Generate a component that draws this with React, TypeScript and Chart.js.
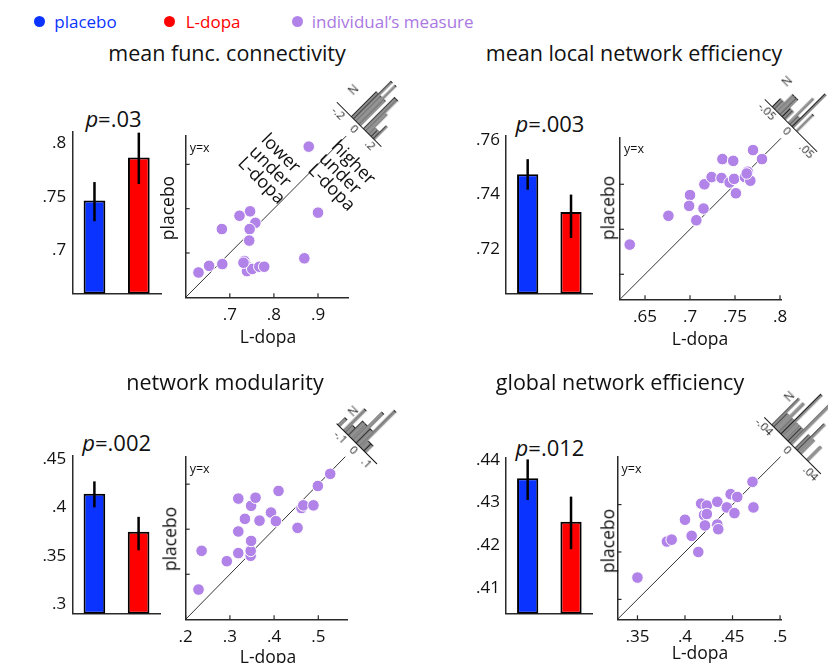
import React, { useEffect, useRef } from "react";
import { Chart, registerables } from "chart.js";

Chart.register(...registerables);

const FONT = "'Open Sans', 'Noto Sans', sans-serif";
Chart.defaults.font.family = FONT;

const BLUE = "#0b33ff";
const RED = "#ff0000";
const PURPLE = "rgb(177, 131, 232)";
const AXIS = "#2a2a2a";
const HIST_GRAY = "#8a8a8a";

// ---------------- data ----------------
const conditions = ["placebo", "L-dopa"];

// mean func. connectivity
const fcMean = [0.7464, 0.7864];
const fcLow = [0.7273, 0.7618];
const fcHigh = [0.7636, 0.8094];
const fcBarTicks = [0.7, 0.75, 0.8];
const fcLdopa = [0.879, 0.9, 0.869, 0.746, 0.722, 0.758, 0.745, 0.682, 0.744, 0.629, 0.653, 0.683, 0.733, 0.736, 0.739, 0.751, 0.767, 0.778, 0.731];
const fcPlacebo = [0.94, 0.791, 0.688, 0.794, 0.784, 0.768, 0.754, 0.754, 0.728, 0.656, 0.671, 0.675, 0.682, 0.674, 0.659, 0.664, 0.669, 0.669, 0.678];
const fcXTicks = [0.7, 0.8, 0.9];
const fcYTicks = [0.7, 0.8, 0.9];
const fcHistBins = [-0.0875, -0.0625, -0.0375, -0.0125, 0.0125, 0.0375, 0.0625, 0.0875, 0.1125, 0.1375, 0.1625, 0.1875];
const fcHistCounts = [2, 3, 2, 3, 2, 0, 2.5, 2.5, 1.5, 0.5, 0.5, 1];
const fcHistTicks = [-0.2, 0, 0.2];

// mean local network efficiency
const leMean = [0.7474, 0.7335];
const leLow = [0.7417, 0.724];
const leHigh = [0.7529, 0.7399];
const leBarTicks = [0.72, 0.74, 0.76];
const leLdopa = [0.633, 0.676, 0.7, 0.699, 0.715, 0.707, 0.716, 0.724, 0.736, 0.748, 0.735, 0.744, 0.749, 0.751, 0.761, 0.764, 0.767, 0.77, 0.78, 0.763];
const lePlacebo = [0.683, 0.715, 0.738, 0.726, 0.723, 0.71, 0.75, 0.758, 0.778, 0.776, 0.757, 0.752, 0.756, 0.74, 0.758, 0.764, 0.754, 0.788, 0.778, 0.762];
const leXTicks = [0.65, 0.7, 0.75, 0.8];
const leYTicks = [0.65, 0.7, 0.75];
const leHistBins = [-0.0475, -0.0425, -0.0375, -0.0325, -0.0275, -0.0225, -0.0175, -0.0125, -0.0075, -0.0025, 0.0025, 0.0075, 0.0125];
const leHistCounts = [1, 1, 2, 2, 2, 1, 1, 0, 3, 1, 4, 0, 2];
const leHistTicks = [-0.05, 0, 0.05];

// network modularity
const nmMean = [0.4141, 0.375];
const nmLow = [0.4001, 0.3557];
const nmHigh = [0.427, 0.3903];
const nmBarTicks = [0.3, 0.35, 0.4, 0.45];
const nmLdopa = [0.229, 0.236, 0.293, 0.319, 0.347, 0.347, 0.348, 0.319, 0.334, 0.367, 0.319, 0.348, 0.358, 0.393, 0.404, 0.41, 0.453, 0.462, 0.466, 0.489, 0.499, 0.527];
const nmPlacebo = [0.266, 0.352, 0.329, 0.347, 0.341, 0.352, 0.374, 0.395, 0.423, 0.419, 0.468, 0.452, 0.47, 0.437, 0.418, 0.485, 0.403, 0.447, 0.453, 0.453, 0.496, 0.523];
const nmXTicks = [0.2, 0.3, 0.4, 0.5];
const nmYTicks = [0.3, 0.4, 0.5];
const nmHistBins = [-0.15, -0.13, -0.11, -0.09, -0.07, -0.05, -0.03, -0.01, 0.01, 0.03, 0.05];
const nmHistCounts = [1, 0, 3, 1, 2, 2, 4, 2, 5, 1, 1];
const nmHistTicks = [-0.1, 0, 0.1];

// global network efficiency
const geMean = [0.4357, 0.4255];
const geLow = [0.4306, 0.4191];
const geHigh = [0.4401, 0.4314];
const geBarTicks = [0.41, 0.42, 0.43, 0.44];
const geLdopa = [0.35, 0.381, 0.386, 0.4, 0.407, 0.414, 0.417, 0.423, 0.42, 0.423, 0.421, 0.434, 0.435, 0.434, 0.444, 0.448, 0.455, 0.452, 0.471, 0.472];
const gePlacebo = [0.373, 0.411, 0.413, 0.434, 0.417, 0.4, 0.451, 0.449, 0.439, 0.44, 0.428, 0.429, 0.424, 0.453, 0.447, 0.461, 0.458, 0.441, 0.474, 0.447];
const geXTicks = [0.35, 0.4, 0.45, 0.5];
const geYTicks = [0.35, 0.4, 0.45];
const geHistBins = [-0.034, -0.03, -0.026, -0.022, -0.018, -0.014, -0.01, -0.006, -0.002, 0.002, 0.006, 0.01, 0.014, 0.018, 0.022, 0.026];
const geHistCounts = [2, 1, 2, 1, 3, 1, 1, 1, 3, 0, 1, 2, 1, 0, 0, 1];
const geHistTicks = [-0.04, 0, 0.04];

// ---------------- helpers ----------------
type Box = { x: number; y: number; w: number; h: number };
type Plot = { l: number; t: number; r: number; b: number };

function pad(box: Box, plot: Plot, yw: number, xh: number) {
  return {
    left: plot.l - box.x - yw,
    top: plot.t - box.y,
    right: box.x + box.w - plot.r,
    bottom: box.y + box.h - plot.b - xh,
  };
}

const fmt = (v: number) => {
  if (Math.abs(v) < 1e-9) return "0";
  const s = String(Math.round(v * 1000) / 1000);
  return s.replace(/^(-?)0\./, "$1.");
};

const setTicks = (vals: number[]) => (axis: any) => {
  axis.ticks = vals.map((v) => ({ value: v }));
};

function errorBarPlugin(low: number[], high: number[]) {
  return {
    id: "errbars",
    afterDatasetsDraw(chart: any) {
      const ctx = chart.ctx;
      const meta = chart.getDatasetMeta(0);
      const y = chart.scales.y;
      ctx.save();
      ctx.strokeStyle = "#000";
      ctx.lineWidth = 2.5;
      meta.data.forEach((el: any, i: number) => {
        ctx.beginPath();
        ctx.moveTo(el.x, y.getPixelForValue(low[i]));
        ctx.lineTo(el.x, y.getPixelForValue(high[i]));
        ctx.stroke();
      });
      ctx.restore();
    },
  };
}

function scatterDecor(xTicks: number[], yTicks: number[], lo: number, hi: number) {
  return {
    id: "decor",
    beforeDatasetsDraw(chart: any) {
      const { ctx, chartArea } = chart;
      const x = chart.scales.x;
      const y = chart.scales.y;
      ctx.save();
      ctx.strokeStyle = "#333";
      ctx.lineWidth = 1;
      ctx.beginPath();
      ctx.moveTo(x.getPixelForValue(lo), y.getPixelForValue(lo));
      ctx.lineTo(x.getPixelForValue(hi), y.getPixelForValue(hi));
      ctx.stroke();
      ctx.strokeStyle = AXIS;
      ctx.lineWidth = 1.2;
      xTicks.forEach((v) => {
        const px = x.getPixelForValue(v);
        ctx.beginPath();
        ctx.moveTo(px, chartArea.bottom);
        ctx.lineTo(px, chartArea.bottom - 4);
        ctx.stroke();
      });
      yTicks.forEach((v) => {
        const py = y.getPixelForValue(v);
        ctx.beginPath();
        ctx.moveTo(chartArea.left, py);
        ctx.lineTo(chartArea.left + 4, py);
        ctx.stroke();
      });
      ctx.fillStyle = "#111";
      ctx.font = `12.5px ${FONT}`;
      ctx.textBaseline = "middle";
      ctx.fillText("y=x", chartArea.left + 4, chartArea.top + 12.5);
      ctx.restore();
    },
  };
}

function nLabelPlugin(up: number) {
  return {
    id: "nlabel",
    afterDraw(chart: any) {
      const { ctx, chartArea } = chart;
      ctx.save();
      ctx.translate(chartArea.left + 4, chartArea.bottom - up);
      ctx.rotate(-Math.PI / 2);
      ctx.font = `12px ${FONT}`;
      ctx.fillStyle = "#222";
      ctx.textAlign = "center";
      ctx.textBaseline = "middle";
      ctx.fillText("N", 0, 0);
      ctx.restore();
    },
  };
}

// ---------------- panels ----------------
interface PanelDef {
  key: string;
  title: string;
  titlePos: [number, number];
  pText: string;
  pPos: [number, number];
  mean: number[];
  low: number[];
  high: number[];
  barRange: [number, number];
  barTicks: number[];
  barBox: Box;
  barPlot: Plot;
  ldopa: number[];
  placebo: number[];
  xRange: [number, number];
  yRange: [number, number];
  xTicks: number[];
  yTicks: number[];
  scBox: Box;
  scPlot: Plot;
  xTitlePos: [number, number];
  yTitlePos: [number, number];
  histBins: number[];
  histCounts: number[];
  histTicks: number[];
  histRange: [number, number];
  histPPU: number;
  histYMax: number;
  histAnchor: [number, number];
  nUp: number;
}

const D = 16 * 0.7071;

const panels: PanelDef[] = [
  {
    key: "fc",
    title: "mean func. connectivity",
    titlePos: [227, 53],
    pText: ".03",
    pPos: [113.5, 118],
    mean: fcMean,
    low: fcLow,
    high: fcHigh,
    barRange: [0.66, 0.81],
    barTicks: fcBarTicks,
    barBox: { x: 0, y: 110, w: 175, h: 200 },
    barPlot: { l: 72.3, t: 132, r: 161, b: 297 },
    ldopa: fcLdopa,
    placebo: fcPlacebo,
    xRange: [0.6, 0.968],
    yRange: [0.6, 0.964],
    xTicks: fcXTicks,
    yTicks: fcYTicks,
    scBox: { x: 150, y: 120, w: 215, h: 212 },
    scPlot: { l: 185.7, t: 136, r: 348, b: 297.3 },
    xTitlePos: [268, 336.5],
    yTitlePos: [168.3, 207.5],
    histBins: fcHistBins,
    histCounts: fcHistCounts,
    histTicks: fcHistTicks,
    histRange: [-0.28, 0.28],
    histPPU: 112,
    histYMax: 3.4,
    histAnchor: [348 + D, 135.3 - D],
    nUp: 20,
  },
  {
    key: "le",
    title: "mean local network efficiency",
    titlePos: [634, 53],
    pText: ".003",
    pPos: [550, 122.5],
    mean: leMean,
    low: leLow,
    high: leHigh,
    barRange: [0.7035, 0.7614],
    barTicks: leBarTicks,
    barBox: { x: 440, y: 110, w: 170, h: 200 },
    barPlot: { l: 506, t: 136, r: 592.7, b: 300 },
    ldopa: leLdopa,
    placebo: lePlacebo,
    xRange: [0.6222, 0.8011],
    yRange: [0.6222, 0.8022],
    xTicks: leXTicks,
    yTicks: leYTicks,
    scBox: { x: 600, y: 120, w: 200, h: 215 },
    scPlot: { l: 620, t: 137.3, r: 781, b: 299.3 },
    xTitlePos: [700, 339],
    yTitlePos: [608.3, 208.3],
    histBins: leHistBins,
    histCounts: leHistCounts,
    histTicks: leHistTicks,
    histRange: [-0.068, 0.064],
    histPPU: 560,
    histYMax: 5.2,
    histAnchor: [781 + D, 137.3 - D],
    nUp: 28,
  },
  {
    key: "nm",
    title: "network modularity",
    titlePos: [225, 382],
    pText: ".002",
    pPos: [116.7, 441.5],
    mean: nmMean,
    low: nmLow,
    high: nmHigh,
    barRange: [0.2901, 0.453],
    barTicks: nmBarTicks,
    barBox: { x: 0, y: 440, w: 175, h: 190 },
    barPlot: { l: 72.3, t: 455, r: 160.7, b: 620 },
    ldopa: nmLdopa,
    placebo: nmPlacebo,
    xRange: [0.2, 0.5656],
    yRange: [0.2, 0.561],
    xTicks: nmXTicks,
    yTicks: nmYTicks,
    scBox: { x: 150, y: 440, w: 215, h: 215 },
    scPlot: { l: 185.7, t: 456.7, r: 347.3, b: 619.3 },
    xTitlePos: [268, 656.5],
    yTitlePos: [170, 539],
    histBins: nmHistBins,
    histCounts: nmHistCounts,
    histTicks: nmHistTicks,
    histRange: [-0.167, 0.14],
    histPPU: 184,
    histYMax: 6,
    histAnchor: [347.3 + D, 456.7 - D],
    nUp: 20,
  },
  {
    key: "ge",
    title: "global network efficiency",
    titlePos: [620, 382],
    pText: ".012",
    pPos: [550, 447],
    mean: geMean,
    low: geLow,
    high: geHigh,
    barRange: [0.404, 0.4405],
    barTicks: geBarTicks,
    barBox: { x: 440, y: 440, w: 170, h: 190 },
    barPlot: { l: 506, t: 457.7, r: 592.7, b: 620 },
    ldopa: geLdopa,
    placebo: gePlacebo,
    xRange: [0.329, 0.501],
    yRange: [0.329, 0.5005],
    xTicks: geXTicks,
    yTicks: geYTicks,
    scBox: { x: 600, y: 440, w: 200, h: 215 },
    scPlot: { l: 617.5, t: 456.7, r: 781, b: 619.3 },
    xTitlePos: [700, 653],
    yTitlePos: [608.3, 540.5],
    histBins: geHistBins,
    histCounts: geHistCounts,
    histTicks: geHistTicks,
    histRange: [-0.048, 0.048],
    histPPU: 825,
    histYMax: 3.2,
    histAnchor: [781 + D, 456.7 - D],
    nUp: 32,
  },
];

// ---------------- chart configs ----------------
function barConfig(p: PanelDef): any {
  return {
    type: "bar",
    data: {
      labels: conditions,
      datasets: [
        {
          data: p.mean,
          backgroundColor: [BLUE, RED],
          borderColor: "#000",
          borderWidth: 2,
          borderSkipped: false,
          base: p.barRange[0],
          barPercentage: 0.49,
          categoryPercentage: 1,
        },
      ],
    },
    options: {
      responsive: false,
      animation: false,
      events: [],
      layout: { padding: pad(p.barBox, p.barPlot, 40, 0), autoPadding: false },
      plugins: { legend: { display: false }, tooltip: { enabled: false } },
      scales: {
        x: {
          grid: { display: false, drawTicks: false },
          ticks: { display: false },
          border: { color: AXIS, width: 1.5 },
          afterFit: (s: any) => {
            s.height = 0;
          },
        },
        y: {
          min: p.barRange[0],
          max: p.barRange[1],
          afterBuildTicks: setTicks(p.barTicks),
          ticks: { callback: (v: any) => fmt(Number(v)), font: { size: 17, family: FONT }, color: "#111", padding: 6 },
          grid: { display: false, drawTicks: false },
          border: { color: AXIS, width: 1.5 },
          afterFit: (s: any) => {
            s.width = 40;
          },
        },
      },
    },
    plugins: [errorBarPlugin(p.low, p.high)],
  };
}

function scatterConfig(p: PanelDef): any {
  const hi = Math.min(p.xRange[1], p.yRange[1]);
  return {
    type: "scatter",
    data: {
      datasets: [
        {
          data: p.ldopa.map((x, i) => ({ x, y: p.placebo[i] })),
          pointRadius: 5.8,
          backgroundColor: PURPLE,
          borderColor: "#ffffff",
          borderWidth: 1,
        },
      ],
    },
    options: {
      responsive: false,
      animation: false,
      events: [],
      layout: { padding: pad(p.scBox, p.scPlot, 0, 30), autoPadding: false },
      plugins: { legend: { display: false }, tooltip: { enabled: false } },
      scales: {
        x: {
          type: "linear",
          min: p.xRange[0],
          max: p.xRange[1],
          afterBuildTicks: setTicks(p.xTicks),
          ticks: { callback: (v: any) => fmt(Number(v)), font: { size: 17, family: FONT }, color: "#111", padding: 8, maxRotation: 0 },
          grid: { display: false, drawTicks: false },
          border: { color: AXIS, width: 1.5 },
          afterFit: (s: any) => {
            s.height = 30;
          },
        },
        y: {
          type: "linear",
          min: p.yRange[0],
          max: p.yRange[1],
          afterBuildTicks: setTicks(p.yTicks),
          ticks: { display: false },
          grid: { display: false, drawTicks: false },
          border: { color: AXIS, width: 1.5 },
          afterFit: (s: any) => {
            s.width = 0;
          },
        },
      },
    },
    plugins: [scatterDecor(p.xTicks, p.yTicks, p.xRange[0], hi)],
  };
}

function histBox(p: PanelDef): Box {
  const w = (p.histRange[1] - p.histRange[0]) * p.histPPU;
  return { x: 0, y: 0, w: Math.round(w) + 30, h: 100 };
}

function histConfig(p: PanelDef): any {
  const box = histBox(p);
  const chartW = (p.histRange[1] - p.histRange[0]) * p.histPPU;
  const right = box.w - 15 - chartW;
  const thickness = (p.histBins[1] - p.histBins[0]) * p.histPPU;
  return {
    type: "bar",
    data: {
      datasets: [
        {
          data: p.histBins.map((x, i) => ({ x, y: p.histCounts[i] })),
          backgroundColor: HIST_GRAY,
          borderColor: "#1c1c1c",
          borderWidth: { left: 1, top: 1, right: 0, bottom: 0 },
          borderSkipped: false,
          barThickness: thickness + 0.2,
          inflateAmount: 0,
        },
      ],
    },
    options: {
      responsive: false,
      animation: false,
      events: [],
      layout: { padding: { left: 15, right: right, top: 22, bottom: 2 }, autoPadding: false },
      plugins: { legend: { display: false }, tooltip: { enabled: false } },
      scales: {
        x: {
          type: "linear",
          offset: false,
          min: p.histRange[0],
          max: p.histRange[1],
          afterBuildTicks: setTicks(p.histTicks),
          ticks: { callback: (v: any) => fmt(Number(v)), font: { size: 11.5, family: FONT }, color: "#222", padding: 1, maxRotation: 0 },
          grid: { display: false, drawTicks: false },
          border: { color: "#1a1a1a", width: 1 },
          afterFit: (s: any) => {
            s.height = 16;
          },
        },
        y: { display: false, min: 0, max: p.histYMax },
      },
    },
    plugins: [nLabelPlugin(p.nUp)],
  };
}

// ---------------- components ----------------
function ChartCanvas({ box, make, after }: { box: Box; make: () => any; after?: (c: Chart, el: HTMLCanvasElement) => void }) {
  const ref = useRef<HTMLCanvasElement>(null);
  useEffect(() => {
    const el = ref.current!;
    const chart = new Chart(el, make());
    if (after) after(chart, el);
    return () => chart.destroy();
  }, []);
  return (
    <canvas
      ref={ref}
      width={box.w}
      height={box.h}
      style={{ position: "absolute", left: box.x, top: box.y, width: box.w, height: box.h }}
    />
  );
}

function Txt({ x, y, size, children, color = "#111", rotate = 0 }: { x: number; y: number; size: number; children: any; color?: string; rotate?: number }) {
  return (
    <div
      style={{
        position: "absolute",
        left: x,
        top: y,
        transform: `translate(-50%, -50%) rotate(${rotate}deg)`,
        fontSize: size,
        lineHeight: 1,
        whiteSpace: "nowrap",
        color,
        fontFamily: FONT,
      }}
    >
      {children}
    </div>
  );
}

function Panel({ p }: { p: PanelDef }) {
  const hb = histBox(p);
  return (
    <>
      <Txt x={p.titlePos[0]} y={p.titlePos[1]} size={21.5}>
        {p.title}
      </Txt>
      <Txt x={p.pPos[0]} y={p.pPos[1]} size={22}>
        <i>p</i>={p.pText}
      </Txt>
      <ChartCanvas box={p.barBox} make={() => barConfig(p)} />
      <ChartCanvas box={p.scBox} make={() => scatterConfig(p)} />
      <ChartCanvas
        box={hb}
        make={() => histConfig(p)}
        after={(c, el) => {
          const lx = (c.scales as any).x.getPixelForValue(0);
          const ly = c.chartArea.bottom;
          el.style.left = `${p.histAnchor[0] - lx}px`;
          el.style.top = `${p.histAnchor[1] - ly}px`;
          el.style.transformOrigin = `${lx}px ${ly}px`;
          el.style.transform = "rotate(45deg)";
        }}
      />
      <Txt x={p.xTitlePos[0]} y={p.xTitlePos[1]} size={17.5}>
        L-dopa
      </Txt>
      <Txt x={p.yTitlePos[0]} y={p.yTitlePos[1]} size={17.5} rotate={-90}>
        placebo
      </Txt>
    </>
  );
}

function RotBlock({ x, y, lines }: { x: number; y: number; lines: string[] }) {
  return (
    <div
      style={{
        position: "absolute",
        left: x,
        top: y,
        transformOrigin: "0 0",
        transform: "rotate(45deg)",
        fontSize: 18,
        lineHeight: "16.5px",
        whiteSpace: "pre",
        fontFamily: FONT,
        color: "#111",
      }}
    >
      {lines.join("\n")}
    </div>
  );
}

const legendItems = [
  { label: "placebo", color: BLUE, dot: 39, text: 54.3 },
  { label: "L-dopa", color: RED, dot: 169.3, text: 185.7 },
  { label: "individual\u2019s measure", color: PURPLE, dot: 297.3, text: 311.7 },
];

export default function App() {
  return (
    <div
      style={{
        position: "absolute",
        left: 0,
        top: 0,
        width: 828,
        height: 663,
        background: "#fff",
        overflow: "hidden",
        fontFamily: FONT,
      }}
    >
      {legendItems.map((it) => (
        <React.Fragment key={it.label}>
          <div
            style={{
              position: "absolute",
              left: it.dot - 5.5,
              top: 21.7 - 5.5,
              width: 11,
              height: 11,
              borderRadius: "50%",
              background: it.color,
            }}
          />
          <div
            style={{
              position: "absolute",
              left: it.text,
              top: 20.7,
              transform: "translateY(-50%)",
              fontSize: 17,
              lineHeight: 1,
              whiteSpace: "nowrap",
              color: it.color === PURPLE ? "rgb(170, 120, 226)" : it.color,
            }}
          >
            {it.label}
          </div>
        </React.Fragment>
      ))}
      {panels.map((p) => (
        <Panel key={p.key} p={p} />
      ))}
      <RotBlock x={270.6} y={129.5} lines={["lower", "under", "L-dopa"]} />
      <RotBlock x={341.1} y={136.8} lines={["higher", "under", "L-dopa"]} />
    </div>
  );
}
